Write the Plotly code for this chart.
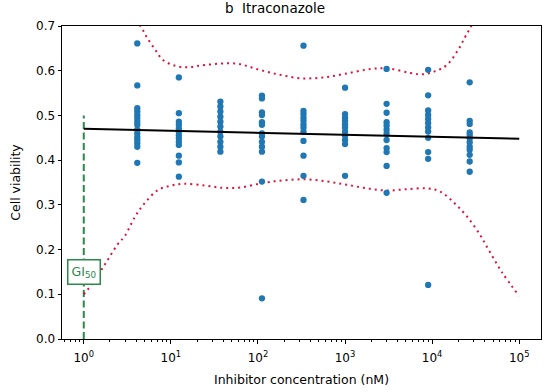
import plotly.graph_objects as go

# Concentrations (nM) of the tested doses
concentrations = [4.115, 12.35, 37.04, 111.1, 333.3, 1000, 3000, 9000, 27000]

# Cell viability readings per dose
viability = [
    [0.661, 0.567, 0.516, 0.509, 0.501, 0.494, 0.486, 0.479, 0.468, 0.460, 0.452, 0.445, 0.438, 0.430, 0.394],
    [0.585, 0.505, 0.486, 0.479, 0.471, 0.464, 0.456, 0.449, 0.441, 0.434, 0.410, 0.395, 0.363],
    [0.531, 0.520, 0.509, 0.497, 0.486, 0.475, 0.464, 0.453, 0.441, 0.430, 0.419],
    [0.544, 0.538, 0.507, 0.501, 0.485, 0.479, 0.460, 0.453, 0.441, 0.430, 0.419, 0.352, 0.091],
    [0.656, 0.510, 0.503, 0.495, 0.488, 0.480, 0.473, 0.464, 0.443, 0.410, 0.365, 0.311],
    [0.562, 0.503, 0.495, 0.488, 0.480, 0.473, 0.464, 0.455, 0.445, 0.436, 0.365],
    [0.604, 0.526, 0.506, 0.485, 0.477, 0.468, 0.459, 0.445, 0.427, 0.418, 0.387, 0.327],
    [0.602, 0.545, 0.511, 0.501, 0.492, 0.483, 0.473, 0.464, 0.450, 0.418, 0.403, 0.121],
    [0.574, 0.488, 0.481, 0.462, 0.456, 0.449, 0.440, 0.430, 0.423, 0.412, 0.397, 0.374],
]

# Fitted regression line
fit_x = [1, 100000]
fit_y = [0.470, 0.448]

# Prediction band, x as log10(concentration)
upper_logx = [0.0, 0.3, 0.5, 0.65, 0.72, 0.82, 0.91, 1.05, 1.2, 1.4, 1.75, 2.0, 2.25, 2.5, 2.75, 3.0,
              3.3, 3.5, 3.75, 3.9, 4.05, 4.17, 4.3, 4.38, 4.45, 4.7, 5.0]
upper_y = [0.86, 0.78, 0.73, 0.70, 0.676, 0.647, 0.624, 0.611, 0.608, 0.613, 0.616, 0.603, 0.591, 0.583,
           0.585, 0.593, 0.604, 0.605, 0.595, 0.592, 0.600, 0.613, 0.647, 0.676, 0.70, 0.80, 0.86]
lower_logx = [0.0, 0.09, 0.24, 0.39, 0.47, 0.59, 0.70, 0.85, 1.0, 1.15, 1.4, 1.6, 1.8, 2.06, 2.3, 2.56,
              2.8, 3.02, 3.25, 3.48, 3.7, 3.94, 4.09, 4.25, 4.40, 4.55, 4.63, 4.8, 5.0]
lower_y = [0.100, 0.122, 0.166, 0.212, 0.230, 0.274, 0.304, 0.333, 0.343, 0.347, 0.343, 0.338, 0.339,
           0.349, 0.355, 0.357, 0.352, 0.345, 0.337, 0.332, 0.335, 0.337, 0.330, 0.305, 0.274, 0.233,
           0.206, 0.15, 0.096]

gi50_x = 1
gi50_top = 0.5

x_tickvals = [1, 10, 100, 1000, 10000, 100000]
x_ticktext = ["10<sup>0</sup>", "10<sup>1</sup>", "10<sup>2</sup>", "10<sup>3</sup>", "10<sup>4</sup>", "10<sup>5</sup>"]
y_tickvals = [0.0, 0.1, 0.2, 0.3, 0.4, 0.5, 0.6, 0.7]

minor_vals = [m * 10 ** d for d in range(-1, 6) for m in range(2, 10)]

GREEN = "#2a8a4a"
RED = "#dc143c"
BLUE = "#1f77b4"

fig = go.Figure()

# GI50 line
fig.add_trace(go.Scatter(x=[gi50_x, gi50_x], y=[0, gi50_top], mode="lines",
                         line=dict(color=GREEN, width=2, dash="7px,3.5px"), hoverinfo="skip"))

# bands
fig.add_trace(go.Scatter(x=[10 ** v for v in upper_logx], y=upper_y, mode="lines",
                         line=dict(color=RED, width=2, dash="2px,4px", shape="spline", smoothing=1.0)))
fig.add_trace(go.Scatter(x=[10 ** v for v in lower_logx], y=lower_y, mode="lines",
                         line=dict(color=RED, width=2, dash="2px,4px", shape="spline", smoothing=1.0)))

# data points
xs, ys = [], []
for c, vals in zip(concentrations, viability):
    xs += [c] * len(vals)
    ys += vals
fig.add_trace(go.Scatter(x=xs, y=ys, mode="markers",
                         marker=dict(color=BLUE, size=6.3, line=dict(width=0))))

# fit line
fig.add_trace(go.Scatter(x=fit_x, y=fit_y, mode="lines", line=dict(color="black", width=2)))

fig.add_annotation(x=0, xref="x", y=0.150, yref="y", text="GI<sub>50</sub>", showarrow=False,
                   font=dict(family="DejaVu Sans", size=12.5, color=GREEN),
                   bgcolor="white", bordercolor=GREEN, borderwidth=1.5, borderpad=3)

axis_font = dict(family="DejaVu Sans", size=12, color="black")
fig.update_layout(
    width=550, height=392,
    margin=dict(l=62, r=9, t=26, b=53, autoexpand=False),
    paper_bgcolor="white", plot_bgcolor="white",
    showlegend=False,
    font=dict(family="DejaVu Sans", size=12, color="black"),
    title=dict(text="b  Itraconazole", x=0.5, xanchor="center", y=0.99, yanchor="top",
               font=dict(family="DejaVu Sans", size=13.5, color="black")),
    xaxis=dict(type="log", range=[-0.25, 5.25], tickmode="array", tickvals=x_tickvals, ticktext=x_ticktext,
               ticks="outside", ticklen=3.5, tickwidth=1, tickcolor="black", ticklabelstandoff=4,
               automargin=False,
               showline=True, linecolor="black", linewidth=1, mirror=True, showgrid=False, zeroline=False,
               tickfont=axis_font,
               minor=dict(tickmode="array", tickvals=minor_vals, ticks="outside", ticklen=2,
                          tickwidth=0.8, tickcolor="black", showgrid=False),
               title=dict(text="Inhibitor concentration (nM)", font=dict(family="DejaVu Sans", size=12.5), standoff=11)),
    yaxis=dict(range=[0, 0.7], tickmode="array", tickvals=y_tickvals, tickformat=".1f",
               ticks="outside", ticklen=3.5, tickwidth=1, tickcolor="black",
               automargin=False,
               showline=True, linecolor="black", linewidth=1, mirror=True, showgrid=False, zeroline=False,
               tickfont=axis_font,
               title=dict(text="Cell viability", font=dict(family="DejaVu Sans", size=12.5), standoff=12)),
)

fig.write_html("out.html", post_script="document.body.style.margin='0';",
               config={"displayModeBar": False})
